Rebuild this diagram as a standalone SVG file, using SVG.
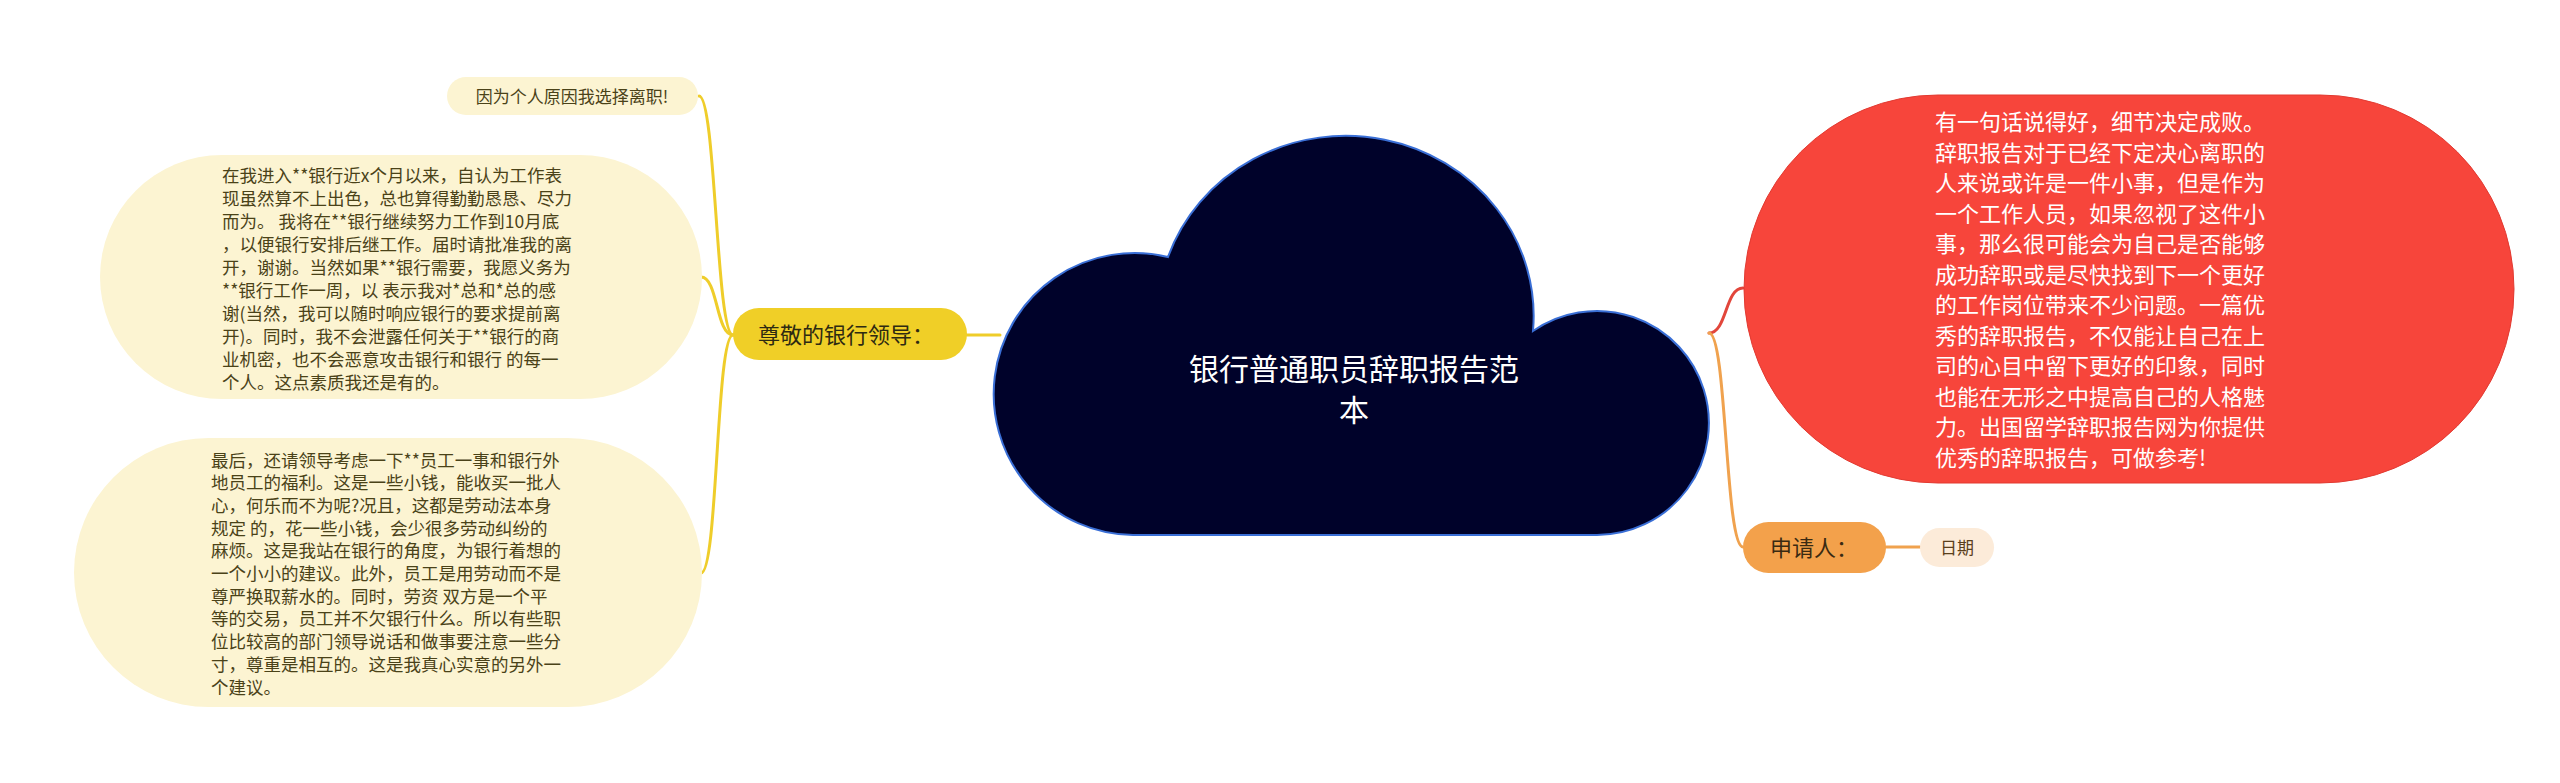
<svg xmlns="http://www.w3.org/2000/svg" width="2560" height="783" viewBox="0 0 2560 783">
<style>
.t{font-family:"Noto Sans CJK SC","Noto Sans",sans-serif;}
.cream{fill:#fcf4d2;}
.ctext{fill:#4a4218;font-size:17.5px;}
.ylink{fill:none;stroke:#efcd2a;stroke-width:3;stroke-linecap:round;}
.rlink{fill:none;stroke:#e2463b;stroke-width:3;stroke-linecap:round;}
.olink{fill:none;stroke:#f0a24e;stroke-width:3;stroke-linecap:round;}
.wtext{fill:#ffffff;font-size:22px;}
</style>
<rect width="2560" height="783" fill="#ffffff"/>

<g id="connectors">
  <path class="ylink" d="M967 335 L1000 335"/>
  <path class="ylink" d="M733 335 C716 335 716 96 699 96"/>
  <path class="ylink" d="M733 335 C716 335 718 277 701 277"/>
  <path class="ylink" d="M733 335 C716 335 718 573 701 573"/>
  <path class="rlink" d="M1709 333 C1727 333 1725 288 1743 288"/>
  <path class="olink" d="M1709 333 C1727 333 1725 547 1743 547"/>
  <path class="olink" d="M1886 547 L1920 547"/>
</g>

<g id="root">
  <path d="M1133 535 A141 141 0 1 1 1168 257 A188 180 0 0 1 1533 331 A112 112 0 1 1 1597 535 Z" fill="#00022a" stroke="#3a6fd6" stroke-width="2"/>
  <text class="t" fill="#ffffff" font-size="30" text-anchor="middle"><tspan x="1354" y="380">银行普通职员辞职报告范</tspan><tspan x="1354" y="421">本</tspan></text>
</g>

<g id="n-leader">
  <rect x="733" y="308" width="234" height="52" rx="26" fill="#f0cf27"/>
  <text class="t" x="758" y="343" font-size="22" fill="#2e2a12">尊敬的银行领导：</text>
</g>

<g id="n-reason">
  <rect class="cream" x="447" y="77" width="251" height="38" rx="19"/>
  <text class="t" x="572" y="103" font-size="17" fill="#4a4218" text-anchor="middle">因为个人原因我选择离职!</text>
</g>

<g id="n-para1">
  <rect class="cream" x="100" y="155" width="602" height="244" rx="122"/>
  <text class="t ctext">
    <tspan x="222" y="181.5">在我进入**银行近x个月以来，自认为工作表</tspan>
    <tspan x="222" y="204.6">现虽然算不上出色，总也算得勤勤恳恳、尽力</tspan>
    <tspan x="222" y="227.7">而为。 我将在**银行继续努力工作到10月底</tspan>
    <tspan x="222" y="250.8">，以便银行安排后继工作。届时请批准我的离</tspan>
    <tspan x="222" y="273.9">开，谢谢。当然如果**银行需要，我愿义务为</tspan>
    <tspan x="222" y="297">**银行工作一周，以 表示我对*总和*总的感</tspan>
    <tspan x="222" y="320.1">谢(当然，我可以随时响应银行的要求提前离</tspan>
    <tspan x="222" y="343.2">开)。同时，我不会泄露任何关于**银行的商</tspan>
    <tspan x="222" y="366.3">业机密，也不会恶意攻击银行和银行 的每一</tspan>
    <tspan x="222" y="389.4">个人。这点素质我还是有的。</tspan>
  </text>
</g>

<g id="n-para2">
  <rect class="cream" x="74" y="438" width="628" height="269" rx="134.5"/>
  <text class="t ctext">
    <tspan x="211" y="466.5">最后，还请领导考虑一下**员工一事和银行外</tspan>
    <tspan x="211" y="489.2">地员工的福利。这是一些小钱，能收买一批人</tspan>
    <tspan x="211" y="511.9">心，何乐而不为呢?况且，这都是劳动法本身</tspan>
    <tspan x="211" y="534.6">规定 的，花一些小钱，会少很多劳动纠纷的</tspan>
    <tspan x="211" y="557.3">麻烦。这是我站在银行的角度，为银行着想的</tspan>
    <tspan x="211" y="580">一个小小的建议。此外，员工是用劳动而不是</tspan>
    <tspan x="211" y="602.7">尊严换取薪水的。同时，劳资 双方是一个平</tspan>
    <tspan x="211" y="625.4">等的交易，员工并不欠银行什么。所以有些职</tspan>
    <tspan x="211" y="648.1">位比较高的部门领导说话和做事要注意一些分</tspan>
    <tspan x="211" y="670.8">寸，尊重是相互的。这是我真心实意的另外一</tspan>
    <tspan x="211" y="693.5">个建议。</tspan>
  </text>
</g>

<g id="n-intro">
  <rect x="1744" y="95" width="770" height="388" rx="194" fill="#f7453b" stroke="#e23a31" stroke-width="1"/>
  <text class="t wtext">
    <tspan x="1935" y="130">有一句话说得好，细节决定成败。</tspan>
    <tspan x="1935" y="160.5">辞职报告对于已经下定决心离职的</tspan>
    <tspan x="1935" y="191">人来说或许是一件小事，但是作为</tspan>
    <tspan x="1935" y="221.5">一个工作人员，如果忽视了这件小</tspan>
    <tspan x="1935" y="252">事，那么很可能会为自己是否能够</tspan>
    <tspan x="1935" y="282.5">成功辞职或是尽快找到下一个更好</tspan>
    <tspan x="1935" y="313">的工作岗位带来不少问题。一篇优</tspan>
    <tspan x="1935" y="343.5">秀的辞职报告，不仅能让自己在上</tspan>
    <tspan x="1935" y="374">司的心目中留下更好的印象，同时</tspan>
    <tspan x="1935" y="404.5">也能在无形之中提高自己的人格魅</tspan>
    <tspan x="1935" y="435">力。出国留学辞职报告网为你提供</tspan>
    <tspan x="1935" y="465.5">优秀的辞职报告，可做参考!</tspan>
  </text>
</g>

<g id="n-applicant">
  <rect x="1743" y="522" width="143" height="51" rx="25.5" fill="#f3a14b"/>
  <text class="t" x="1770" y="556" font-size="22" fill="#3a2a12">申请人：</text>
</g>

<g id="n-date">
  <rect x="1920" y="528" width="74" height="39" rx="19.5" fill="#fcebd9"/>
  <text class="t" x="1957" y="554" font-size="17" fill="#5a3f1c" text-anchor="middle">日期</text>
</g>
</svg>
